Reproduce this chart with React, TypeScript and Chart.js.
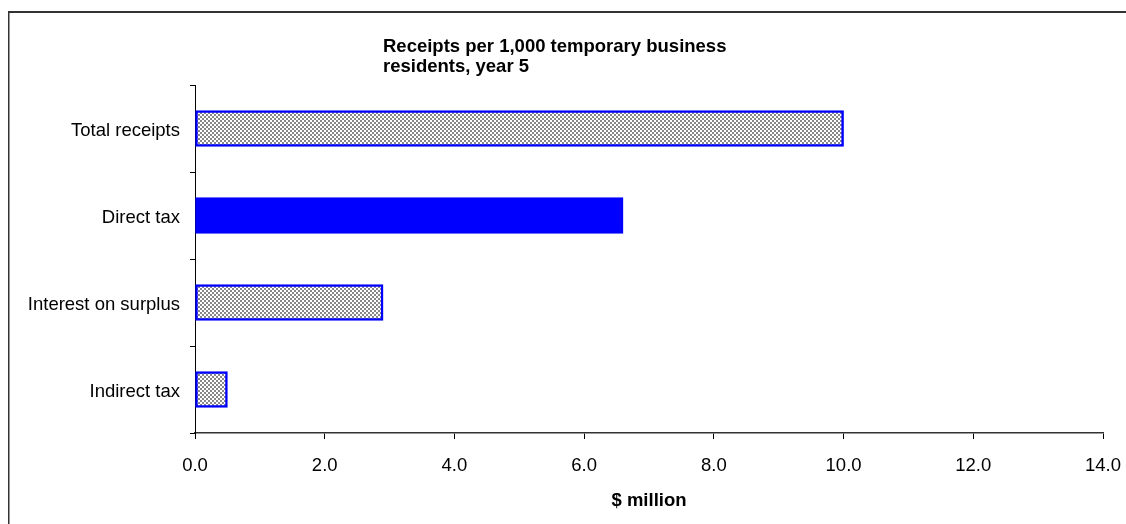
import React, { useEffect, useRef } from "react";
import { Chart, registerables } from "chart.js";

Chart.register(...registerables);

// Receipts per 1,000 temporary business residents, year 5 ($ million)
const categories = ["Total receipts", "Direct tax", "Interest on surplus", "Indirect tax"];
const receipts = [10.0, 6.6, 2.9, 0.5];
const solidCategory = "Direct tax";

const titleLines = ["Receipts per 1,000 temporary business", "residents, year 5"];
const axisTitle = "$ million";
const xMin = 0;
const xMax = 14;
const xStep = 2;

const FONT = "Liberation Sans, Arial, Helvetica, sans-serif";
const BLUE = "#0000ff";
const CANVAS_W = 1126;
const CANVAS_H = 524;

function makeHatch(ctx: CanvasRenderingContext2D): CanvasPattern | string {
  const tile = document.createElement("canvas");
  tile.width = 4;
  tile.height = 4;
  const t = tile.getContext("2d");
  if (!t) return "#aaaaaa";
  t.fillStyle = "#ffffff";
  t.fillRect(0, 0, 4, 4);
  t.fillStyle = "#888888";
  t.fillRect(0, 0, 2, 2);
  t.fillRect(2, 2, 2, 2);
  return ctx.createPattern(tile, "repeat") || "#aaaaaa";
}

// Frame lines and the left-aligned two-line heading
const framePlugin = {
  id: "frameAndHeading",
  beforeDraw(chart: Chart) {
    const ctx = chart.ctx;
    ctx.save();
    ctx.fillStyle = "#ffffff";
    ctx.fillRect(0, 0, chart.width, chart.height);
    ctx.strokeStyle = "#333333";
    ctx.lineWidth = 2;
    ctx.beginPath();
    ctx.moveTo(8, 12);
    ctx.lineTo(chart.width, 12);
    ctx.stroke();
    ctx.lineWidth = 1.5;
    ctx.beginPath();
    ctx.moveTo(8.75, 11);
    ctx.lineTo(8.75, chart.height);
    ctx.stroke();
    ctx.restore();
  },
  afterDraw(chart: Chart) {
    const ctx = chart.ctx;
    ctx.save();
    ctx.fillStyle = "#000000";
    ctx.font = `bold 18.5px ${FONT}`;
    ctx.textAlign = "left";
    ctx.textBaseline = "alphabetic";
    titleLines.forEach((line, i) => {
      ctx.fillText(line, 383, 51.5 + i * 20);
    });
    ctx.restore();
  },
};

export default function App() {
  const canvasRef = useRef<HTMLCanvasElement | null>(null);

  useEffect(() => {
    const canvas = canvasRef.current;
    if (!canvas) return;
    const ctx = canvas.getContext("2d");
    if (!ctx) return;
    const hatch = makeHatch(ctx);

    const chart = new Chart(ctx, {
      type: "bar",
      data: {
        labels: categories,
        datasets: [
          {
            data: receipts,
            backgroundColor: categories.map((c) => (c === solidCategory ? BLUE : hatch)),
            borderColor: BLUE,
            borderWidth: 2.5,
            borderSkipped: false,
            barThickness: 36,
          },
        ],
      },
      options: {
        indexAxis: "y",
        animation: false,
        responsive: false,
        maintainAspectRatio: false,
        layout: { padding: { left: 8, top: 85, right: 23, bottom: 8 } },
        plugins: {
          legend: { display: false },
          title: { display: false },
          tooltip: { enabled: false },
        },
        scales: {
          x: {
            type: "linear",
            min: xMin,
            max: xMax,
            ticks: {
              stepSize: xStep,
              color: "#000000",
              font: { family: FONT, size: 18.5 },
              padding: 16,
              callback: (v: number | string) => Number(v).toFixed(1),
            },
            grid: {
              drawOnChartArea: false,
              drawTicks: true,
              tickLength: 6,
              color: "#000000",
              lineWidth: 1,
            },
            border: { display: true, color: "#333333", width: 1.5 },
            title: {
              display: true,
              text: axisTitle,
              color: "#000000",
              font: { family: FONT, size: 18.5, weight: "bold" },
              padding: { top: 0, bottom: 4 },
            },
            afterFit: (scale: any) => {
              scale.height = 83;
              scale.paddingLeft = 0;
              scale.paddingRight = 0;
            },
          },
          y: {
            type: "category",
            ticks: {
              color: "#000000",
              font: { family: FONT, size: 18.5 },
              padding: 10,
              labelOffset: 2,
            },
            grid: {
              offset: true,
              drawOnChartArea: false,
              drawTicks: true,
              tickLength: 5,
              color: "#000000",
              lineWidth: 1,
            },
            border: { display: true, color: "#000000", width: 1 },
            afterFit: (scale: any) => {
              scale.width = 187;
              scale.paddingTop = 0;
              scale.paddingBottom = 0;
            },
          },
        },
      },
      plugins: [framePlugin],
    });

    return () => chart.destroy();
  }, []);

  return (
    <div style={{ position: "fixed", left: 0, top: 0, width: CANVAS_W, height: CANVAS_H }}>
      <canvas ref={canvasRef} width={CANVAS_W} height={CANVAS_H} style={{ display: "block" }} />
    </div>
  );
}
